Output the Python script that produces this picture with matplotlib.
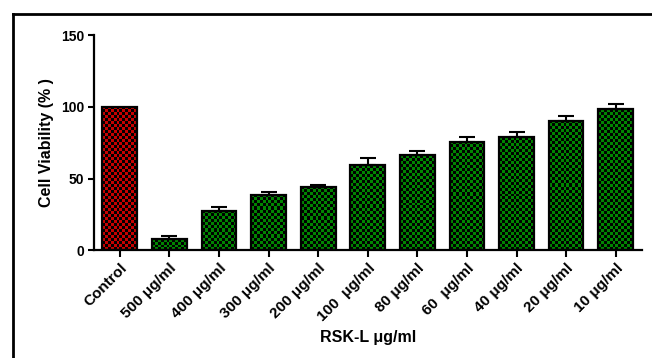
import numpy as np
import matplotlib
matplotlib.use("Agg")
import matplotlib.pyplot as plt
from matplotlib.lines import Line2D

plt.rcParams['font.family'] = ['Liberation Sans', 'DejaVu Sans']
plt.rcParams['font.weight'] = 'bold'

# datos
grupos = ["Control", "500 \u03bcg/ml", "400 \u03bcg/ml", "300 \u03bcg/ml", "200 \u03bcg/ml",
          "100  \u03bcg/ml", "80 \u03bcg/ml", "60  \u03bcg/ml", "40 \u03bcg/ml", "20 \u03bcg/ml", "10 \u03bcg/ml"]
viabilidad = [100, 7.5, 27.5, 38.5, 44.3, 59.4, 66.4, 75.7, 78.8, 90.4, 98.4]
error = [0, 2.5, 2.5, 1.8, 1.2, 4.7, 2.8, 3.5, 3.7, 3.5, 3.5]

rojo = (0.78, 0.0, 0.0)
verde = (0.0, 0.52, 0.0)
colores = [rojo] + [verde] * (len(grupos) - 1)

fig = plt.figure(figsize=(6.52, 3.58), dpi=100)
ax = fig.add_axes([94/652, 1 - 250/358, (642 - 94)/652, (250 - 35.5)/358])

x = np.arange(len(grupos))
barras = ax.bar(x, viabilidad, width=0.7, color=colores, edgecolor='none', zorder=1)
ax.set_xlim(-0.52, len(grupos) - 1 + 0.53)
ax.set_ylim(0, 150)

# tablero de ajedrez dentro de cada barra
celda = 3.0
for b, c in zip(barras, colores):
    x0, y0, w, h = b.get_x(), b.get_y(), b.get_width(), b.get_height()
    (px0, py0), (px1, py1) = ax.transData.transform([(x0, y0), (x0 + w, y0 + h)])
    nx = max(1, int(round((px1 - px0) / celda)))
    ny = max(1, int(round((py1 - py0) / celda)))
    tablero = np.add.outer(np.arange(ny), np.arange(nx)) % 2
    img = np.zeros((ny, nx, 3))
    img[tablero == 1] = c
    ax.imshow(img, extent=(x0, x0 + w, y0, y0 + h), origin='lower', interpolation='nearest',
              aspect='auto', clip_path=b, zorder=2)
ax.bar(x, viabilidad, width=0.7, fill=False, edgecolor='black', linewidth=1.6, zorder=3)
ax.set_aspect('auto')
ax.set_xlim(-0.52, len(grupos) - 1 + 0.53)
ax.set_ylim(0, 150)

ax.errorbar(x[1:], viabilidad[1:], yerr=[np.zeros(len(x) - 1), error[1:]], fmt='none',
            ecolor='black', elinewidth=1.5, capsize=5.8, capthick=1.5, zorder=4)

for s in ['top', 'right']:
    ax.spines[s].set_visible(False)
for s in ['left', 'bottom']:
    ax.spines[s].set_linewidth(1.6)

ax.set_yticks([0, 50, 100, 150])
ax.tick_params(axis='y', length=4, width=1.5, pad=3, labelsize=10)
ax.tick_params(axis='x', length=5, width=1.5, pad=3, labelsize=11)
ax.set_xticks(x)
ax.set_xticklabels(grupos, rotation=45, ha='right', rotation_mode='anchor', fontweight='bold')
for t in ax.get_yticklabels():
    t.set_fontweight('bold')

ax.set_ylabel("Cell Viability (% )", fontsize=11.5, fontweight='bold', labelpad=5)
ax.set_xlabel("RSK-L \u03bcg/ml", fontsize=11.5, fontweight='bold', labelpad=4)

# marco exterior (solo arriba e izquierda visibles)
fig.add_artist(Line2D([13/652, 1], [1 - 14/358, 1 - 14/358], color='black', linewidth=2,
                      transform=fig.transFigure))
fig.add_artist(Line2D([13/652, 13/652], [0, 1 - 14/358], color='black', linewidth=2,
                      transform=fig.transFigure))

fig.savefig("out.png", dpi=100)
